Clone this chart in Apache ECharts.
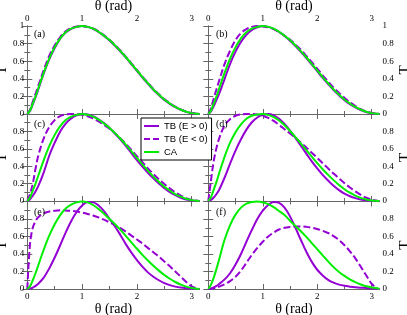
<!DOCTYPE html>
<html><head><meta charset="utf-8">
<script src="https://cdn.jsdelivr.net/npm/echarts@6/dist/echarts.min.js"></script>
<style>html,body{margin:0;padding:0;background:#fff}#c{width:407px;height:315px}</style>
</head><body><div id="c"></div>
<script>
// θ sample positions (rad)
const theta = [0,0.05,0.1,0.15,0.2,0.3,0.4,0.5,0.6,0.7,0.8,0.9,1.0,1.1,1.2,1.3,1.4,1.5,1.6,1.7,1.8,1.9,2.0,2.1,2.2,2.3,2.4,2.5,2.6,2.7,2.8,2.9,3.0,3.1,3.1416];
const xMajor = [0,1,2,3];
const xMinor = [0.5,1.5,2.5];
const legendNames = ['TB (E > 0)','TB (E < 0)','CA'];
const panelTags = ['(a)','(b)','(c)','(d)','(e)','(f)'];

// panel (a)
const aPos = [0,0.035,0.11,0.19,0.28,0.46,0.62,0.75,0.855,0.925,0.968,0.99,1.0,0.99,0.968,0.932,0.886,0.835,0.775,0.71,0.64,0.565,0.49,0.415,0.345,0.275,0.215,0.16,0.116,0.077,0.048,0.024,0.009,0.002,0];
const aNeg = [0,0.05,0.14,0.23,0.32,0.50,0.66,0.78,0.875,0.94,0.975,0.995,0.998,0.99,0.972,0.94,0.895,0.845,0.785,0.72,0.65,0.575,0.5,0.425,0.355,0.285,0.225,0.17,0.124,0.083,0.052,0.027,0.011,0.002,0];
const aCA  = [0,0.04,0.12,0.2,0.29,0.47,0.63,0.76,0.86,0.93,0.97,0.99,1.0,0.99,0.97,0.935,0.89,0.84,0.78,0.715,0.645,0.57,0.495,0.42,0.35,0.28,0.22,0.165,0.12,0.08,0.05,0.025,0.01,0.002,0];
// panel (b)
const bPos = [0,0.03,0.09,0.16,0.23,0.40,0.57,0.71,0.82,0.90,0.955,0.985,1.0,0.99,0.968,0.932,0.886,0.832,0.772,0.706,0.636,0.561,0.486,0.411,0.341,0.272,0.212,0.157,0.112,0.074,0.044,0.021,0.008,0.002,0];
const bNeg = [0,0.07,0.18,0.28,0.38,0.57,0.72,0.84,0.92,0.965,0.99,1.0,0.995,0.985,0.965,0.93,0.89,0.845,0.79,0.73,0.66,0.59,0.515,0.44,0.37,0.30,0.24,0.185,0.135,0.09,0.055,0.03,0.012,0.003,0];
const bCA  = [0,0.04,0.12,0.2,0.29,0.47,0.63,0.76,0.86,0.93,0.97,0.99,1.0,0.99,0.97,0.935,0.89,0.84,0.78,0.715,0.645,0.57,0.495,0.42,0.35,0.28,0.22,0.165,0.12,0.08,0.05,0.025,0.01,0.002,0];
// panel (c)
const cPos = [0,0.02,0.06,0.11,0.17,0.33,0.52,0.67,0.80,0.89,0.95,0.985,1.0,0.995,0.975,0.94,0.895,0.84,0.775,0.705,0.63,0.55,0.47,0.395,0.325,0.26,0.20,0.148,0.103,0.067,0.038,0.018,0.006,0.001,0];
const cNeg = [0,0.08,0.2,0.37,0.52,0.72,0.85,0.93,0.975,0.995,1.0,0.998,0.99,0.975,0.95,0.915,0.875,0.83,0.78,0.72,0.655,0.585,0.515,0.445,0.375,0.31,0.25,0.195,0.145,0.10,0.063,0.033,0.013,0.003,0];
const cCA  = [0,0.04,0.12,0.2,0.29,0.47,0.63,0.76,0.86,0.93,0.97,0.99,1.0,0.99,0.97,0.935,0.89,0.84,0.78,0.715,0.645,0.57,0.495,0.42,0.35,0.28,0.22,0.165,0.12,0.08,0.05,0.025,0.01,0.002,0];
// panel (d)
const dPos = [0,0.012,0.04,0.08,0.13,0.27,0.43,0.58,0.71,0.82,0.905,0.96,0.99,1.0,0.985,0.945,0.885,0.81,0.725,0.635,0.545,0.455,0.375,0.30,0.235,0.175,0.125,0.085,0.055,0.033,0.018,0.008,0.003,0.0,0];
const dNeg = [0,0.24,0.46,0.61,0.72,0.87,0.94,0.98,0.995,1.0,1.0,0.995,0.98,0.955,0.92,0.875,0.825,0.775,0.725,0.67,0.615,0.555,0.495,0.435,0.375,0.315,0.26,0.205,0.155,0.11,0.07,0.038,0.015,0.003,0];
const dCA  = [0,0.045,0.13,0.22,0.32,0.51,0.67,0.79,0.88,0.945,0.98,0.995,1.0,0.99,0.965,0.925,0.87,0.805,0.735,0.66,0.585,0.51,0.435,0.365,0.30,0.24,0.185,0.135,0.095,0.062,0.036,0.018,0.007,0.001,0];
// panel (e)
const ePos = [0,0.004,0.016,0.035,0.06,0.13,0.235,0.36,0.50,0.645,0.775,0.88,0.955,0.993,0.99,0.955,0.89,0.80,0.715,0.615,0.51,0.415,0.33,0.255,0.19,0.14,0.10,0.068,0.044,0.027,0.016,0.009,0.004,0.001,0];
const eNeg = [0,0.52,0.70,0.775,0.82,0.865,0.885,0.895,0.90,0.898,0.893,0.885,0.873,0.858,0.84,0.818,0.792,0.762,0.73,0.695,0.655,0.61,0.565,0.52,0.47,0.42,0.37,0.315,0.26,0.20,0.14,0.08,0.03,0.004,0];
const eCA  = [0,0.03,0.10,0.18,0.27,0.45,0.61,0.74,0.845,0.92,0.965,0.99,1.0,0.99,0.96,0.915,0.86,0.80,0.74,0.675,0.605,0.533,0.46,0.39,0.325,0.265,0.21,0.16,0.117,0.08,0.05,0.027,0.011,0.002,0];
// panel (f)
const fPos = [0,0.004,0.018,0.035,0.058,0.11,0.18,0.28,0.40,0.54,0.675,0.80,0.895,0.96,0.995,0.985,0.93,0.83,0.70,0.56,0.425,0.31,0.22,0.155,0.105,0.072,0.05,0.036,0.027,0.02,0.015,0.011,0.007,0.002,0];
const fNeg = [0,0.002,0.008,0.016,0.027,0.055,0.09,0.14,0.21,0.30,0.39,0.47,0.54,0.60,0.645,0.68,0.70,0.71,0.715,0.715,0.71,0.70,0.685,0.665,0.64,0.605,0.56,0.50,0.43,0.35,0.255,0.155,0.06,0.005,0];
const fCA  = [0,0.05,0.13,0.23,0.34,0.565,0.73,0.85,0.93,0.975,0.995,1.0,0.99,0.97,0.935,0.89,0.845,0.78,0.72,0.66,0.595,0.525,0.455,0.385,0.315,0.25,0.195,0.15,0.11,0.078,0.052,0.032,0.018,0.008,0];

const panels = [[aPos,aNeg,aCA],[bPos,bNeg,bCA],[cPos,cNeg,cCA],[dPos,dNeg,dCA],[ePos,eNeg,eCA],[fPos,fNeg,fCA]];

const VIOLET = '#9400d3', GREEN = '#00ee00', FRAME = '#666';
const SERIF = '"Liberation Serif","DejaVu Serif",serif';
const colLeft = [27.3, 208.3], colWidth = [172.2, 171.1];
const rowTop = [26, 114, 201.5], rowHeight = [88, 87, 87.5];

const grid = [], xAxis = [], yAxis = [], series = [], graphic = [];
panels.forEach((p, i) => {
  const col = i % 2, row = Math.floor(i / 2);
  grid.push({left: colLeft[col], top: rowTop[row], width: colWidth[col], height: rowHeight[row],
    containLabel: false, outerBoundsMode: 'none', show: false});
  const primPos = row === 2 ? 'bottom' : 'top';
  const oppPos = primPos === 'top' ? 'bottom' : 'top';
  const showX = row !== 1;
  const baseX = {gridIndex: i, type: 'value', min: 0, max: Math.PI, interval: 1,
    splitLine: {show: false}, minorTick: {show: false}};
  xAxis.push(Object.assign({}, baseX, {position: primPos,
    name: showX ? 'θ (rad)' : '', nameLocation: 'middle', nameGap: row === 0 ? 12 : 8,
    nameTextStyle: {fontFamily: SERIF, fontSize: 14, color: '#000'},
    axisLine: {show: true, lineStyle: {color: FRAME, width: 1}},
    axisTick: {show: true, inside: true, length: 5, customValues: xMajor, lineStyle: {color: FRAME}},
    axisLabel: {show: showX, customValues: xMajor, margin: 3, fontFamily: SERIF, fontSize: 9, color: '#000'}}));
  xAxis.push(Object.assign({}, baseX, {position: primPos,
    axisLine: {show: false},
    axisTick: {show: true, inside: true, length: 3, customValues: xMinor, lineStyle: {color: FRAME}},
    axisLabel: {show: false}}));
  xAxis.push(Object.assign({}, baseX, {position: oppPos,
    axisLine: {show: true, lineStyle: {color: FRAME, width: 1}},
    axisTick: {show: true, inside: true, length: 5, customValues: xMajor, lineStyle: {color: FRAME}},
    axisLabel: {show: false}}));
  xAxis.push(Object.assign({}, baseX, {position: oppPos,
    axisLine: {show: false},
    axisTick: {show: true, inside: true, length: 3, customValues: xMinor, lineStyle: {color: FRAME}},
    axisLabel: {show: false}}));

  const yPrim = col === 0 ? 'left' : 'right';
  const yOpp = col === 0 ? 'right' : 'left';
  const baseY = {gridIndex: i, type: 'value', min: 0, max: 1, interval: 0.2,
    splitLine: {show: false},
    axisLine: {show: true, lineStyle: {color: FRAME, width: 1}},
    axisTick: {show: true, inside: true, length: 5, lineStyle: {color: FRAME}},
    minorTick: {show: true, splitNumber: 2, length: 3, lineStyle: {color: FRAME}}};
  yAxis.push(Object.assign({}, baseY, {position: yPrim,
    name: 'T', nameLocation: 'middle', nameGap: 14,
    nameTextStyle: {fontFamily: SERIF, fontSize: 15, color: '#000'},
    axisLabel: {show: true, margin: 3, showMaxLabel: row === 0, showMinLabel: true,
      fontFamily: SERIF, fontSize: 9, color: '#000'}}));
  yAxis.push(Object.assign({}, baseY, {position: yOpp, axisLabel: {show: false}}));

  const styles = [{type: 'solid', color: VIOLET}, {type: [7, 3], color: VIOLET}, {type: 'solid', color: GREEN}];
  p.forEach((vals, k) => {
    series.push({
      name: legendNames[k], type: 'line', xAxisIndex: 4 * i, yAxisIndex: 2 * i,
      data: theta.map((t, j) => [t, vals[j]]),
      showSymbol: false, symbol: 'none', smooth: 0.35, clip: false,
      color: styles[k].color,
      lineStyle: {color: styles[k].color, width: 2, type: styles[k].type},
      z: 2 + k, animation: false
    });
  });

  graphic.push({type: 'text', x: col === 0 ? 34 : 216, y: [34, 124, 212.5][row],
    style: {text: panelTags[i], font: '10px ' + SERIF, fill: '#000', verticalAlign: 'middle'}, z: 50});
});

const SOLID_ICON = 'path://M0,0H15V2H0Z';
const DASH_ICON = 'path://M0,0H6V2H0ZM9,0H15V2H9Z';
const chart = echarts.init(document.getElementById('c'), null, {renderer: 'canvas'});
chart.setOption({
  animation: false,
  backgroundColor: '#fff',
  grid, xAxis, yAxis, series, graphic,
  legend: {
    data: [{name: legendNames[0], icon: SOLID_ICON}, {name: legendNames[1], icon: DASH_ICON}, {name: legendNames[2], icon: SOLID_ICON}],
    orient: 'vertical', left: 141, top: 118,
    backgroundColor: '#fff', borderColor: '#000', borderWidth: 1,
    padding: [3, 4, 3, 3], itemWidth: 15, itemHeight: 2, itemGap: 3,
    itemStyle: {borderWidth: 0},
    textStyle: {fontFamily: '"Liberation Sans","DejaVu Sans",sans-serif', fontSize: 9.5, lineHeight: 9, color: '#000'},
    selectedMode: false, z: 100
  }
});
</script></body></html>
